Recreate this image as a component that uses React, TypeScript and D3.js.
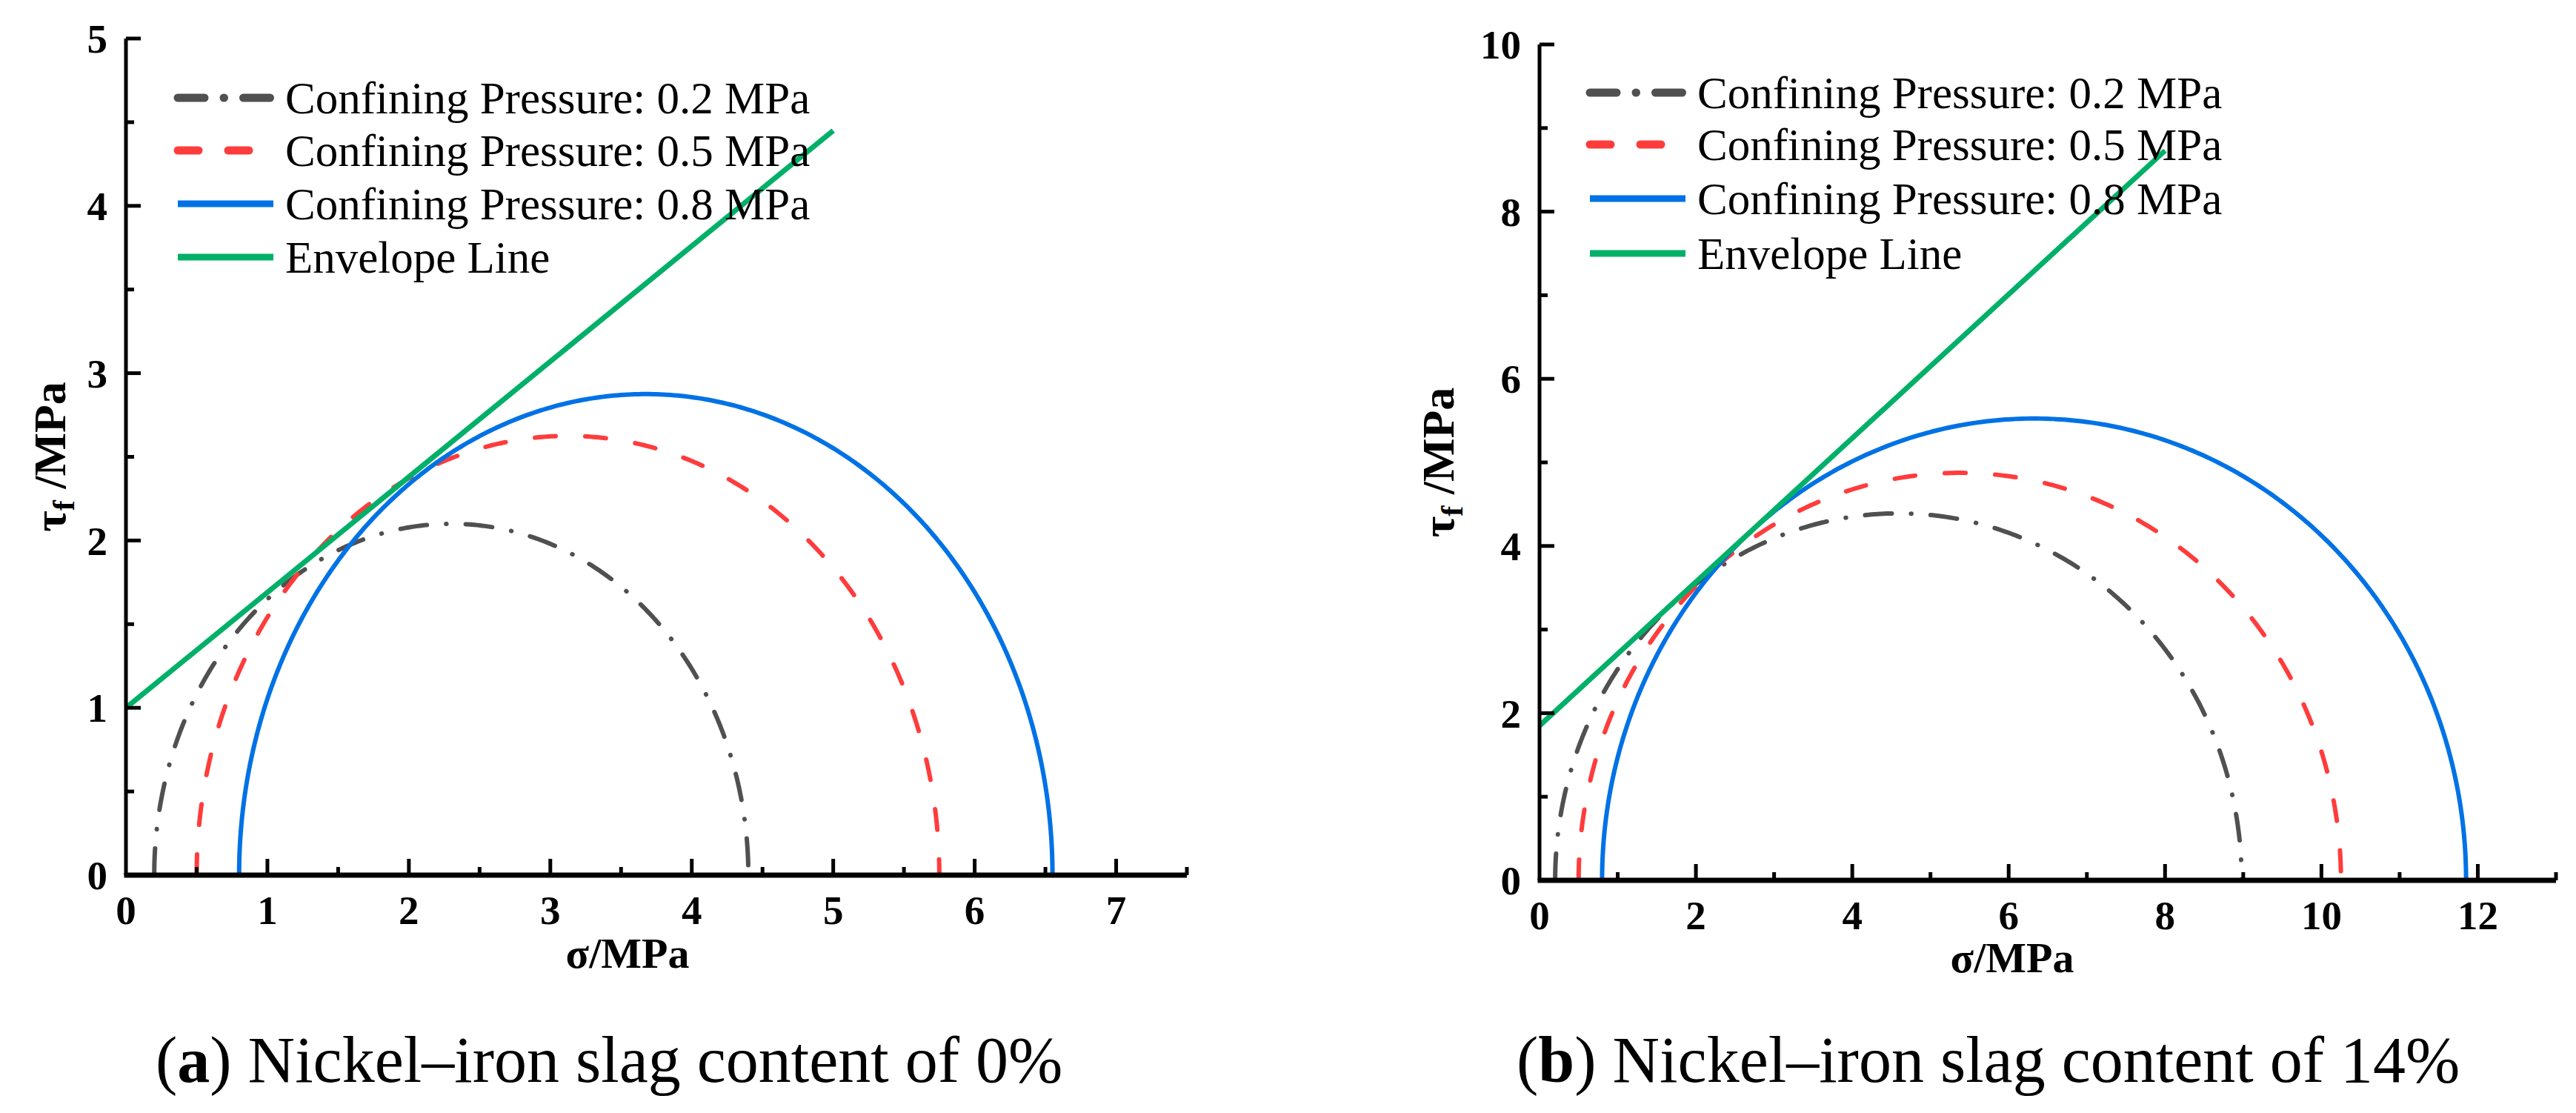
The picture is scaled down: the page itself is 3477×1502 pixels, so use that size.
import React, { useEffect, useRef } from 'react'
import * as d3 from 'd3'

// confining pressures (sigma3) and the major principal stress at failure (sigma1)
const sigma3 = [0.2, 0.5, 0.8]
const sigma1_a = [4.4, 5.75, 6.55]
const sigma1_b = [8.98, 10.25, 11.85]

// Mohr-Coulomb envelope end points [sigma, tau]
const envelope_a: [number, number][] = [[0, 1.0], [5, 4.45]]
const envelope_b: [number, number][] = [[0, 1.85], [8, 8.73]]

const legendLabels = [
    'Confining Pressure: 0.2 MPa',
    'Confining Pressure: 0.5 MPa',
    'Confining Pressure: 0.8 MPa',
    'Envelope Line'
]

const xTicks_a = [0, 1, 2, 3, 4, 5, 6, 7]
const yTicks_a = [0, 1, 2, 3, 4, 5]
const xTicks_b = [0, 2, 4, 6, 8, 10, 12]
const yTicks_b = [0, 2, 4, 6, 8, 10]

const captionLetters = ['a', 'b']
const captionTexts = [') Nickel–iron slag content of 0%', ') Nickel–iron slag content of 14%']

const colors = ['#505050', '#ff3c3c', '#0072e5', '#00b068']
const dashes = ['36 26 0.5 26', '28 40', null, null]
const font = '"Liberation Serif", "Times New Roman", serif'

const panels = [
    {
        left: 170, right: 1602, top: 52, bottom: 1181,
        xDomain: [0, 7.5], yDomain: [0, 5], xMinor: 0.5, yMinor: 0.5,
        xTicks: xTicks_a, yTicks: yTicks_a, sigma1: sigma1_a, envelope: envelope_a,
        legendX: 237, legendRows: [132, 203, 275, 347],
        yTitleX: 88, xTitleX: 847, xTitleY: 1306, tickLabelY: 1247,
        captionX: 210, caption: 0
    },
    {
        left: 2078, right: 3450, top: 60, bottom: 1188,
        xDomain: [0, 13], yDomain: [0, 10], xMinor: 1, yMinor: 1,
        xTicks: xTicks_b, yTicks: yTicks_b, sigma1: sigma1_b, envelope: envelope_b,
        legendX: 2143, legendRows: [125, 195, 268, 342],
        yTitleX: 1962, xTitleX: 2716, xTitleY: 1312, tickLabelY: 1254,
        captionX: 2047, caption: 1
    }
]

const drawPanel = (svg, p) => {
    const x = d3.scaleLinear().domain(p.xDomain).range([p.left, p.right])
    const y = d3.scaleLinear().domain(p.yDomain).range([p.bottom, p.top])
    const g = svg.append('g')

    const line = d3
        .line<[number, number]>()
        .x(d => x(d[0]))
        .y(d => y(d[1]))

    // Mohr circles
    sigma3.forEach((s3, i) => {
        const s1 = p.sigma1[i]
        const c = (s1 + s3) / 2
        const r = (s1 - s3) / 2
        const pts = d3.range(0, 180.5, 0.5).map(a => {
            const t = (a * Math.PI) / 180
            return [c - r * Math.cos(t), r * Math.sin(t)] as [number, number]
        })
        g.append('path')
            .attr('d', line(pts))
            .attr('fill', 'none')
            .attr('stroke', colors[i])
            .attr('stroke-width', 6)
            .attr('stroke-linecap', dashes[i] ? 'round' : 'butt')
            .attr('stroke-dasharray', dashes[i])
    })

    // envelope
    g.append('path')
        .attr('d', line(p.envelope))
        .attr('fill', 'none')
        .attr('stroke', colors[3])
        .attr('stroke-width', 7)

    // axes
    const [x0, x1] = p.xDomain
    const [y0, y1] = p.yDomain
    g.append('line')
        .attr('x1', x(x0)).attr('x2', x(x0))
        .attr('y1', y(y1)).attr('y2', y(y0))
        .attr('stroke', '#000').attr('stroke-width', 5)
    g.append('line')
        .attr('x1', x(x0) - 2.5).attr('x2', x(x1))
        .attr('y1', y(y0)).attr('y2', y(y0))
        .attr('stroke', '#000').attr('stroke-width', 7)

    const xMinor = d3.range(x0, x1 + 1e-6, p.xMinor).filter(v => !p.xTicks.includes(v))
    const yMinor = d3.range(y0, y1 + 1e-6, p.yMinor).filter(v => !p.yTicks.includes(v))

    g.selectAll(null)
        .data(p.xTicks.filter(v => v > x0).map(v => [v, 22]).concat(xMinor.map(v => [v, 11])))
        .join('line')
        .attr('x1', d => x(d[0])).attr('x2', d => x(d[0]))
        .attr('y1', y(y0)).attr('y2', d => y(y0) - d[1])
        .attr('stroke', '#000').attr('stroke-width', 5)

    g.selectAll(null)
        .data(p.yTicks.filter(v => v > y0).map(v => [v, 20]).concat(yMinor.map(v => [v, 11])))
        .join('line')
        .attr('y1', d => y(d[0])).attr('y2', d => y(d[0]))
        .attr('x1', x(x0)).attr('x2', d => x(x0) + d[1])
        .attr('stroke', '#000').attr('stroke-width', 5)

    // tick labels
    g.selectAll(null)
        .data(p.xTicks)
        .join('text')
        .attr('x', d => x(d))
        .attr('y', p.tickLabelY)
        .attr('text-anchor', 'middle')
        .attr('font-family', font)
        .attr('font-weight', 'bold')
        .attr('font-size', 55)
        .text(d => d)

    g.selectAll(null)
        .data(p.yTicks)
        .join('text')
        .attr('x', x(x0) - 25)
        .attr('y', d => y(d))
        .attr('dy', '0.35em')
        .attr('text-anchor', 'end')
        .attr('font-family', font)
        .attr('font-weight', 'bold')
        .attr('font-size', 55)
        .text(d => d)

    // axis titles
    g.append('text')
        .attr('x', p.xTitleX)
        .attr('y', p.xTitleY)
        .attr('text-anchor', 'middle')
        .attr('font-family', font)
        .attr('font-weight', 'bold')
        .attr('font-size', 58)
        .text('σ/MPa')

    const yt = g.append('text')
        .attr('transform', `translate(${p.yTitleX},${(p.top + p.bottom) / 2}) rotate(-90)`)
        .attr('text-anchor', 'middle')
        .attr('font-family', font)
        .attr('font-weight', 'bold')
        .attr('font-size', 62)
    yt.append('tspan').text('τ')
    yt.append('tspan').attr('font-size', 42).attr('dy', 12).text('f')
    yt.append('tspan').attr('dy', -12).text(' /MPa')

    // legend
    p.legendRows.forEach((ry, i) => {
        g.append('line')
            .attr('x1', p.legendX + 3).attr('x2', p.legendX + 132)
            .attr('y1', ry).attr('y2', ry)
            .attr('stroke', colors[i])
            .attr('stroke-width', i < 2 ? 11 : 9)
            .attr('stroke-linecap', i < 2 ? 'round' : 'butt')
            .attr('stroke-dasharray', dashes[i])
        g.append('text')
            .attr('x', p.legendX + 148)
            .attr('y', ry + 21)
            .attr('font-family', font)
            .attr('font-size', 61)
            .text(legendLabels[i])
    })

    // caption
    const cap = g.append('text')
        .attr('x', p.captionX)
        .attr('y', 1460)
        .attr('font-family', font)
        .attr('font-size', 88)
    cap.append('tspan').text('(')
    cap.append('tspan').attr('font-weight', 'bold').text(captionLetters[p.caption])
    cap.append('tspan').text(captionTexts[p.caption])
}

export default function App() {
    const ref = useRef<SVGSVGElement>(null)

    useEffect(() => {
        const svg = d3.select(ref.current)
        svg.selectAll('*').remove()
        panels.forEach(p => drawPanel(svg, p))
    }, [])

    return (
        <svg
            ref={ref}
            width={3477}
            height={1502}
            style={{ position: 'absolute', left: 0, top: 0, background: '#fff' }}
        />
    )
}
